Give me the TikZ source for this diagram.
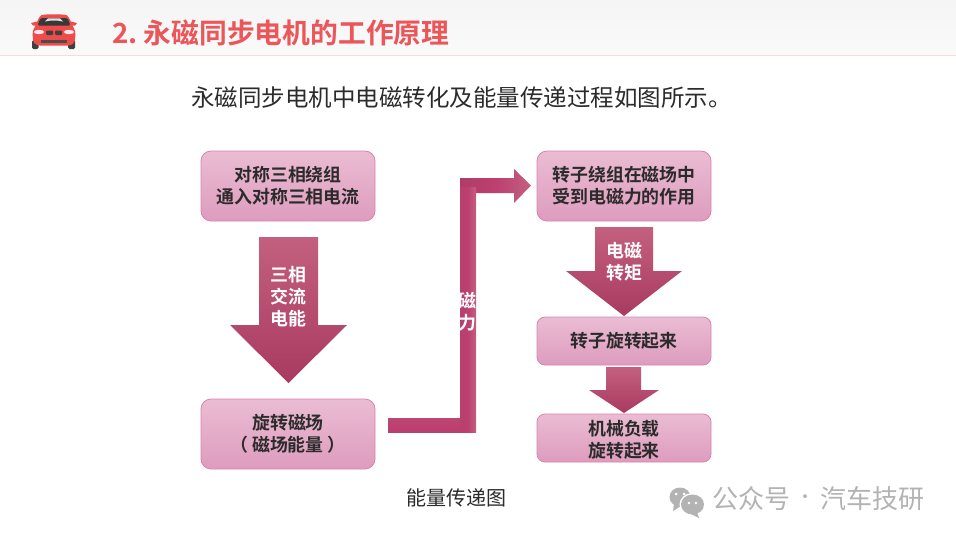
\documentclass[tikz,border=0pt]{standalone}
\usepackage{fontspec}
\setmainfont{Noto Sans CJK SC}
\newfontfamily\cjkbold{Noto Sans CJK SC Bold}
\definecolor{boxtop}{HTML}{EABCD3}
\definecolor{boxbot}{HTML}{DE9CBE}
\definecolor{boxline}{HTML}{D884AF}
\definecolor{arrA}{HTML}{C3607F}
\definecolor{arrB}{HTML}{BC4070}
\definecolor{arrC}{HTML}{A93A60}
\definecolor{titlered}{HTML}{EC5659}
\definecolor{inktext}{HTML}{2B2B2B}
\definecolor{carred}{HTML}{EE4B4B}
\definecolor{wmgrey}{HTML}{B3B3B3}
\tikzset{
  flowbox/.style={rectangle,rounded corners=10pt,draw=boxline,line width=.8pt,top color=boxtop,bottom color=boxbot,
    minimum width=174pt,align=center,text=inktext,font=\cjkbold\fontsize{17.9}{22}\selectfont,inner sep=0pt},
  boxtall/.style={flowbox,minimum height=70pt},
  boxlow/.style={flowbox,minimum height=48pt,rounded corners=8pt},
  downarrow/.style={top color=arrA,middle color=arrB,bottom color=arrC},
  arrowtext/.style={text=white,align=center,font=\cjkbold\fontsize{17.9}{22}\selectfont,inner sep=0pt},
  watermark/.style={anchor=west,text=wmgrey,inner sep=0pt,font=\fontsize{26}{28}\selectfont},
}
\begin{document}
\begin{tikzpicture}[x=1pt,y=-1pt]
\useasboundingbox (0,0) rectangle (956,538);
\fill[white] (0,0) rectangle (956,538);
% header band
\shade[top color=white!96!black,bottom color=white!98!black] (0,0) rectangle (956,55);
\draw[color=pink!60!white,line width=.7pt] (0,55.3) -- (956,55.3);
% car
\begin{scope}
 \fill[black!75,rounded corners=1.5pt] (32,40) rectangle (38.5,49) (68,40) rectangle (75,49);
 \fill[carred] (31,23) -- (37,21.5) -- (37,25.5) -- (33,25.5) -- cycle (77,23) -- (71,21.5) -- (71,25.5) -- (75,25.5) -- cycle;
 \fill[carred,rounded corners=3pt] (32.5,31) -- (36,25) -- (39,17) .. controls (43,14) and (65,14) .. (69,17) -- (72,25) -- (75.5,31) -- (75,42) -- (71,45.5) -- (37,45.5) -- (33,42) -- cycle;
 \fill[black!78,rounded corners=1.5pt] (37.5,25.5) -- (40.5,18) -- (67.5,18) -- (70.5,25.5) -- cycle;
 \fill[black!12] (48,18.4) -- (60,18.4) -- (63,21.5) -- (57,20.5) -- (51,20.5) -- (45,21.5) -- cycle;
 \fill[white!88!carred] (39,32) ellipse (5 and 2.2) (69,32) ellipse (5 and 2.2);
 \fill[black!75,rounded corners=1pt] (46,30.5) rectangle (53,35) (55,30.5) rectangle (62,35);
 \fill[black!70] (41,40) rectangle (67,43.3);
\end{scope}
% titles
\node[anchor=west,text=titlered,inner sep=0pt,font=\cjkbold\fontsize{27.8}{30}\selectfont] (title) at (112,33) {2.};
\node[anchor=west,text=titlered,inner sep=0pt,font=\cjkbold\fontsize{27.8}{30}\selectfont] (titleb) at (143.5,33) {永磁同步电机的工作原理};
\node[anchor=west,text=inktext,inner sep=0pt,font=\fontsize{23.5}{26}\selectfont] (subtitle) at (191,98) {永磁同步电机中电磁转化及能量传递过程如图所示。};
% boxes
\node[boxtall] (b1) at (288,186) {对称三相绕组\\通入对称三相电流};
\node[boxtall] (b2) at (288,434) {旋转磁场\\（ 磁场能量 ）};
\node[boxtall] (b3) at (624,186) {转子绕组在磁场中\\受到电磁力的作用};
\node[boxlow] (b4) at (624,341) {转子旋转起来};
\node[boxlow] (b5) at (624,438) {\rule{0pt}{18.5pt}机械负载\\旋转起来};
% straight arrows
\shade[downarrow] (259,237) -- (318,237) -- (318,325) -- (347,325) -- (288.5,383) -- (230,325) -- (259,325) -- cycle;
\node[arrowtext] (a1) at (288.5,296.5) {三相\\交流\\电能};
\shade[downarrow] (595,227) -- (653,227) -- (653,271) -- (682,271) -- (624,316) -- (566,271) -- (595,271) -- cycle;
\node[arrowtext] (a2) at (624,260) {\rule{0pt}{19pt}电磁\\转矩};
\shade[downarrow] (606,367) -- (641,367) -- (641,390) -- (659,390) -- (624,413) -- (589,390) -- (606,390) -- cycle;
% bent arrow
\shade[top color=arrB!80!arrA,bottom color=arrB!85!arrC,middle color=arrB] (388,418) rectangle (461,432);
\shade[left color=arrC!60!arrB,right color=arrA,middle color=arrB] (460,178) -- (514,178) -- (514,169) -- (531,185.5) -- (514,203) -- (514,193) -- (460,193) -- cycle;
\shade[left color=arrB!85!arrC,right color=arrA,middle color=arrB] (460,187) rectangle (476,432);
\begin{scope}
 \clip (460,187) rectangle (476,432);
 \node[arrowtext] (a3) at (467,301) {磁};
 \node[arrowtext] (a4) at (467,323) {力};
\end{scope}
% caption
\node[text=inktext,inner sep=0pt,font=\fontsize{20}{24}\selectfont] (cap) at (456,498) {能量传递图};
% watermark
\fill[wmgrey] (680,497) ellipse (10.5 and 9.5);
\fill[wmgrey] (674,504) -- (673,511) -- (681,506) -- cycle;
\fill[white] (692.5,504.5) ellipse (13 and 11.5);
\fill[wmgrey] (692.5,504.5) ellipse (11.5 and 10);
\fill[wmgrey] (697,512) -- (699,518) -- (691,514) -- cycle;
\fill[white] (676,494) circle (1.5) (684,494) circle (1.5) (689,503) circle (1.4) (696,503) circle (1.4);
\node[watermark] (wm) at (712,499) {公众号};
\node[text=wmgrey,inner sep=0pt,font=\fontsize{18}{20}\selectfont] (wmdot) at (805,499) {·};
\node[watermark] (wmb) at (820,499) {汽车技研};
\end{tikzpicture}
\end{document}
